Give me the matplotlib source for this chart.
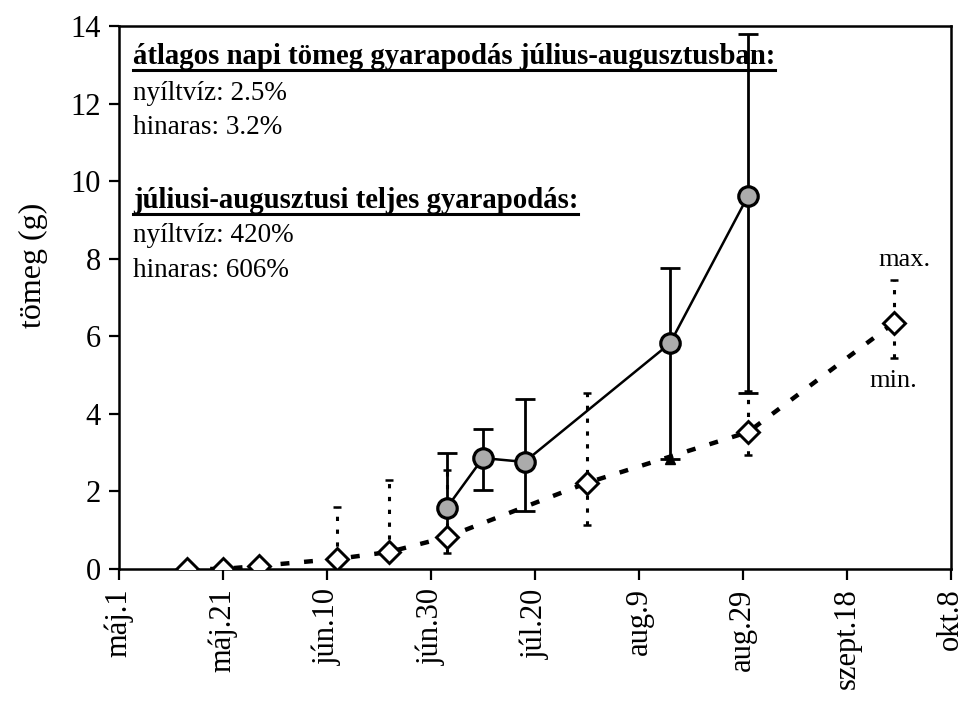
import numpy as np
import matplotlib
matplotlib.use("Agg")
import matplotlib.pyplot as plt
from matplotlib.lines import Line2D

plt.rcParams['font.family'] = ['Liberation Serif', 'DejaVu Serif']

# season start used as day 0 (máj.1)
season_start = np.datetime64('2001-05-01')

# open water (nyíltvíz) - diamonds, mean with min/max range
d_dates = ['2001-05-14', '2001-05-21', '2001-05-28', '2001-06-12', '2001-06-22',
           '2001-07-03', '2001-07-30', '2001-08-30', '2001-09-27']
d_val = [0.0, 0.0, 0.08, 0.26, 0.44, 0.82, 2.22, 3.53, 6.34]
d_min = [0.0, 0.0, 0.08, 0.26, 0.44, 0.41, 1.13, 2.94, 5.44]
d_max = [0.0, 0.0, 0.08, 1.60, 2.30, 2.55, 4.54, 4.60, 7.45]

# weedy (hinaras) - circles, mean with error bars
c_dates = ['2001-07-03', '2001-07-10', '2001-07-18', '2001-08-15', '2001-08-30']
c_val = [1.57, 2.86, 2.76, 5.82, 9.62]
c_lo = [0.82, 2.04, 1.49, 2.84, 4.54]
c_hi = [2.99, 3.61, 4.38, 7.76, 13.8]

tick_labels = ['máj.1', 'máj.21', 'jún.10', 'jún.30', 'júl.20',
               'aug.9', 'aug.29', 'szept.18', 'okt.8']
tick_step = 20

d_day = (np.array(d_dates, dtype='datetime64[D]') - season_start).astype(int)
c_day = (np.array(c_dates, dtype='datetime64[D]') - season_start).astype(int)
d_val, d_min, d_max = map(np.array, (d_val, d_min, d_max))
c_val, c_lo, c_hi = map(np.array, (c_val, c_lo, c_hi))

fig = plt.figure(figsize=(9.65, 7.09), dpi=100)
ax = fig.add_axes([0.1233, 0.1975, 0.862, 0.7658])

# min/max ranges of open water (dotted)
rng = ax.errorbar(d_day, d_val, yerr=[d_val - d_min, d_max - d_val], fmt='none',
                  ecolor='k', elinewidth=2.2, capsize=3, capthick=1.8, zorder=2)
for lc in rng[2]:
    lc.set_linestyle((0, (1.4, 2.8)))

# open water mean line
ax.plot(d_day, d_val, color='k', lw=3.2, linestyle=(0, (2.0, 3.3)),
        dash_capstyle='butt', zorder=2)

# weedy error bars and line
ax.errorbar(c_day, c_val, yerr=[c_val - c_lo, c_hi - c_val], fmt='none',
            ecolor='k', elinewidth=2.0, capsize=7, capthick=2.0, zorder=3)
ax.plot(c_day, c_val, color='k', lw=1.8, zorder=3)
ax.plot(c_day[3], c_lo[3], marker='^', ms=7, color='k', zorder=3)
ax.plot(c_day, c_val, linestyle='none', marker='o', ms=14, mfc='#ababab',
        mec='k', mew=2.3, zorder=4)

# open water markers
ax.plot(d_day, d_val, linestyle='none', marker='D', ms=11, mfc='white',
        mec='k', mew=2.1, zorder=5)

ax.text(d_day[-1] + 2, 7.8, 'max.', fontsize=19, ha='center', va='baseline')
ax.text(d_day[-1], 4.7, 'min.', fontsize=19, ha='center', va='baseline')

ax.set_xlim(0, tick_step * (len(tick_labels) - 1))
ax.set_ylim(0, 14)
ax.set_xticks(np.arange(len(tick_labels)) * tick_step)
ax.set_xticklabels(tick_labels, rotation=90, fontsize=22)
ax.set_yticks(np.arange(0, 15, 2))
ax.tick_params(axis='y', labelsize=22, direction='out', length=7, width=1.6, pad=6)
ax.tick_params(axis='x', direction='out', length=8, width=1.6, pad=6)
ax.set_ylabel('tömeg (g)', fontsize=23)
ax.yaxis.set_label_coords(-0.085, 0.56)
for sp in ax.spines.values():
    sp.set_linewidth(1.8)

# text block
lines = [
    ('átlagos napi tömeg gyarapodás július-augusztusban:', 0.9306, True),
    ('nyíltvíz: 2.5%', 0.8641, False),
    ('hinaras: 3.2%', 0.8011, False),
    ('júliusi-augusztusi teljes gyarapodás:', 0.6648, True),
    ('nyíltvíz: 420%', 0.6022, False),
    ('hinaras: 606%', 0.5378, False),
]
heads = []
for txt, yy, bold in lines:
    t = ax.text(0.0168, yy, txt, transform=ax.transAxes, va='baseline', ha='left',
                fontsize=20.7 if bold else 19.5,
                fontweight='bold' if bold else 'normal', zorder=6)
    if bold:
        heads.append(t)

fig.canvas.draw()
rend = fig.canvas.get_renderer()
W, H = fig.bbox.width, fig.bbox.height
for t in heads:
    bb = t.get_window_extent(rend)
    ybase = ax.transAxes.transform((0, t.get_position()[1]))[1] - 6
    fig.add_artist(Line2D([bb.x0 / W, bb.x1 / W], [ybase / H, ybase / H],
                          color='k', lw=2.2, transform=fig.transFigure))

fig.savefig('out.png', dpi=100)
